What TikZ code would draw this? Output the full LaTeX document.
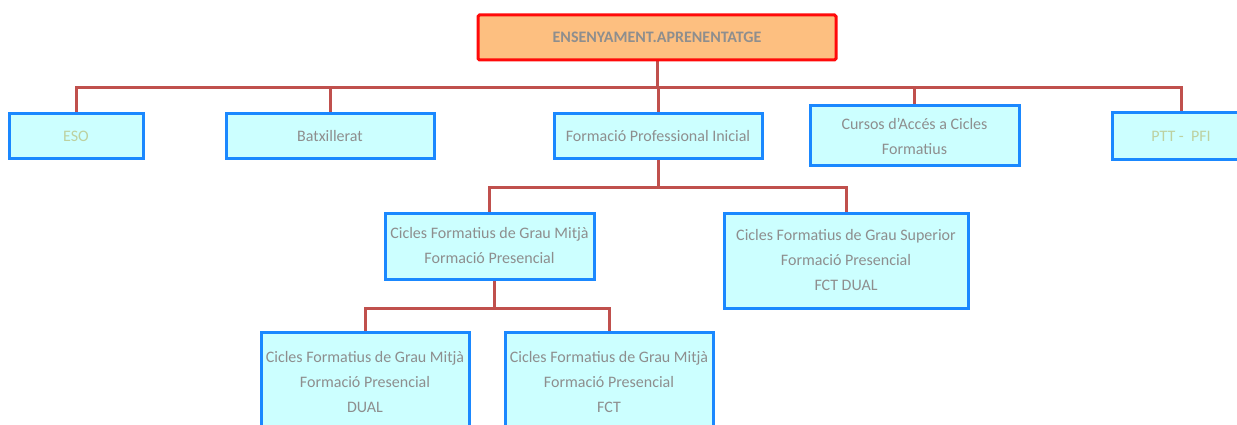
\documentclass[tikz,border=0pt]{standalone}
\usepackage{fontspec}
\setmainfont{Carlito}
\usetikzlibrary{backgrounds}
\definecolor{conn}{HTML}{C0504D}
\definecolor{bxline}{HTML}{1A88FF}
\definecolor{bxfill}{HTML}{CCFFFF}
\definecolor{topfill}{HTML}{FDBF80}
\definecolor{topline}{HTML}{FF0A0A}
\definecolor{txt}{HTML}{8E8E8E}
\definecolor{txtg}{HTML}{BDD1A0}
\tikzset{
  bx/.style={draw=bxline, fill=bxfill, line width=3pt, inner sep=0pt, align=center,
    text=txt, font=\fontsize{16}{25}\selectfont},
  topbx/.style={draw=topline, fill=topfill, line width=3pt, inner sep=0pt, align=center,
    rounded corners=1.5pt, text=txt, font=\fontsize{16}{25}\selectfont\bfseries},
  conn/.style={draw=conn, line width=3pt},
}
\begin{document}
\begin{tikzpicture}[x=1pt,y=1pt]
\useasboundingbox (0,0) rectangle (1237,-425);
\coordinate (bus1) at (0,-88);
\coordinate (bus2) at (0,-187);
\coordinate (bus3) at (0,-308);

\node[topbx, minimum width=358pt, minimum height=45pt] (top) at (657,-37.5) {ENSENYAMENT.APRENENTATGE};

\node[bx, minimum width=134pt, minimum height=45pt] (eso) at (76,-136.5) {\textcolor{txtg}{ESO}};
\node[bx, minimum width=208pt, minimum height=45pt] (bat) at (330,-136.5) {Batxillerat};
\node[bx, minimum width=208pt, minimum height=45pt] (fpi) at (658,-136.5) {Formació Professional Inicial};
\node[bx, minimum width=209pt, minimum height=60pt] (cur) at (914.5,-136) {Cursos d'Accés a Cicles\\Formatius};
\node[bx, minimum width=138pt, minimum height=47pt] (ptt) at (1181,-136.5) {\textcolor{txtg}{PTT -\ \ PFI}};

\node[bx, minimum width=209pt, minimum height=66pt] (cfgm) at (489.5,-246) {Cicles Formatius de Grau Mitjà\\Formació Presencial};
\node[bx, minimum width=244pt, minimum height=95pt] (cfgs) at (846,-260.5) {Cicles Formatius de Grau Superior\\Formació Presencial\\FCT DUAL};

\node[bx, minimum width=208pt, minimum height=100pt] (dual) at (365,-382) {Cicles Formatius de Grau Mitjà\\Formació Presencial\\DUAL};
\node[bx, minimum width=208pt, minimum height=100pt] (fct) at (609,-382) {Cicles Formatius de Grau Mitjà\\Formació Presencial\\FCT};

\begin{pgfonlayer}{background}
\foreach \c in {eso,bat,fpi,cur,ptt}{
  \draw[conn] (top.south) -- (top.south |- bus1) -| (\c.north);
}
\foreach \c in {cfgm,cfgs}{
  \draw[conn] (fpi.south) -- (fpi.south |- bus2) -| (\c.north);
}
\coordinate (cfgmdrop) at ([xshift=5pt]cfgm.south);
\foreach \c in {dual,fct}{
  \draw[conn] (cfgmdrop) -- (cfgmdrop |- bus3) -| (\c.north);
}
\end{pgfonlayer}
\end{tikzpicture}
\end{document}
